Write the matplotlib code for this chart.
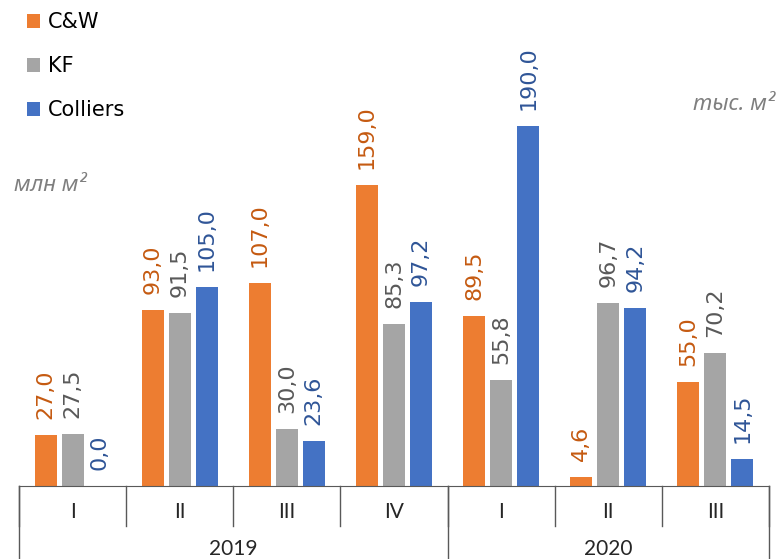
import numpy as np
import matplotlib
matplotlib.use("Agg")
import matplotlib.pyplot as plt
from matplotlib.transforms import blended_transform_factory

# data
quarters = ["I", "II", "III", "IV", "I", "II", "III"]
years = ["2019", "2020"]
year_groups = [4, 3]  # quarters per year
series_names = ["C&W", "KF", "Colliers"]
cw = [27.0, 93.0, 107.0, 159.0, 89.5, 4.6, 55.0]
kf = [27.5, 91.5, 30.0, 85.3, 55.8, 96.7, 70.2]
colliers = [0.0, 105.0, 23.6, 97.2, 190.0, 94.2, 14.5]

bar_colors = ["#ED7D31", "#A5A5A5", "#4472C4"]
label_colors = ["#C55A11", "#595959", "#2F5597"]
line_col = "#595959"

fig = plt.figure(figsize=(7.79, 5.59), dpi=100)
ax = fig.add_axes([19 / 779, 73 / 559, 750 / 779, 486 / 559])

x = np.arange(len(quarters))
width = 0.205
step = 0.252
handles = []
for i, (vals, name) in enumerate(zip([cw, kf, colliers], series_names)):
    pos = x + (i - 1) * step
    b = ax.bar(pos, vals, width, color=bar_colors[i], label=name)
    handles.append(b)
    for xp, v in zip(pos, vals):
        ax.annotate(f"{v:.1f}".replace(".", ","), (xp, v), xytext=(0, 11.5),
                    textcoords="offset points", rotation=90, ha="center",
                    va="bottom", fontsize=16, color=label_colors[i])

ax.set_xlim(-0.5, len(quarters) - 0.5)
ax.set_ylim(0, 256.5)
for s in ["top", "right", "left"]:
    ax.spines[s].set_visible(False)
ax.spines["bottom"].set_color(line_col)
ax.set_xticks([])
ax.set_yticks([])

# two-level category axis
cat_font = ["Lato", "DejaVu Sans"]
tr = blended_transform_factory(ax.transData, ax.transAxes)
for xi, q in zip(x, quarters):
    ax.text(xi, -0.054, q, transform=tr, ha="center", va="center",
            fontsize=15, family=cat_font, color="#262626")
for b in np.arange(len(quarters) + 1) - 0.5:
    ax.plot([b, b], [0, -0.082], transform=tr, color=line_col, lw=1,
            clip_on=False)
start = 0
for yr, n in zip(years, year_groups):
    ax.text(start + n / 2 - 0.5, -0.13, yr, transform=tr, ha="center",
            va="center", fontsize=15, family=cat_font, color="#262626")
    start += n
for b in [-0.5, 3.5, 6.5]:
    ax.plot([b, b], [0, -0.16], transform=tr, color=line_col, lw=1,
            clip_on=False)

leg = ax.legend(handles=handles, loc="upper left",
                bbox_to_anchor=(17 / 779, 1 - 2 / 559),
                bbox_transform=fig.transFigure, frameon=False, fontsize=15,
                handlelength=0.6, handleheight=0.6, handletextpad=0.4,
                labelspacing=1.15, borderpad=0)

unit_font = ["Noto Sans", "DejaVu Sans"]
fig.text(14 / 779, 1 - 185 / 559, "млн м²", fontsize=16, style="italic",
         family=unit_font, color="#7F7F7F", va="center", ha="left")
fig.text(775 / 779, 1 - 105 / 559, "тыс. м²", fontsize=16, style="italic",
         family=unit_font, color="#7F7F7F", va="center", ha="right")

fig.savefig("out.png", dpi=100)
